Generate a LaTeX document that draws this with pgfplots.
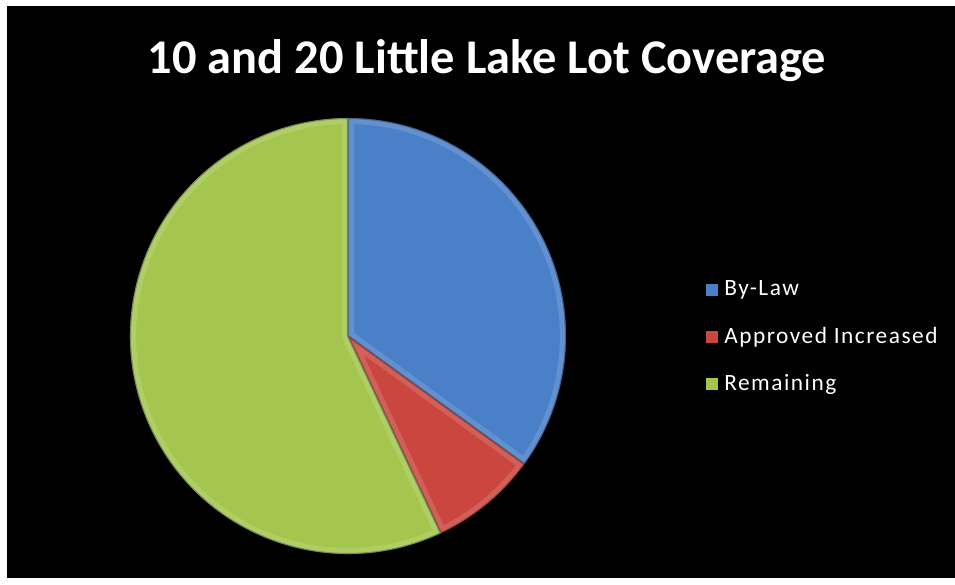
\documentclass[border=0pt]{standalone}
\usepackage{pgfplots}
\pgfplotsset{compat=1.18}
\usepackage{pgfplotstable}
\usepackage{fontspec}
\setmainfont{Carlito}
\definecolor{cBlue}{HTML}{4A80C8}
\definecolor{cRed}{HTML}{CA463F}
\definecolor{cGreen}{HTML}{A4C64F}
\pgfplotstableread{
idx value
0 35
1 8
2 57
}\piedata
\newcommand\slice[3]{%
  \fill[#3] (axis cs:348,242) -- ++(#1:163.5pt) arc[start angle=#1, end angle=#2, radius=163.5pt] -- cycle;
  \begin{scope}
    \clip (axis cs:348,242) -- ++(#1:163.5pt) arc[start angle=#1, end angle=#2, radius=163.5pt] -- cycle;
    \draw[white, opacity=0.14, line width=9pt] (axis cs:348,242) -- ++(#1:163.5pt) arc[start angle=#1, end angle=#2, radius=163.5pt] -- cycle;
    \draw[black, opacity=0.3, line width=1.6pt] (axis cs:348,242) -- ++(#1:163.5pt) arc[start angle=#1, end angle=#2, radius=163.5pt] -- cycle;
  \end{scope}}
\newcommand\legfont{\fontsize{17.5}{20}\selectfont\addfontfeature{LetterSpace=6.5}}
\begin{document}
\begin{tikzpicture}
\pgfplotstablegetelem{0}{value}\of\piedata \pgfmathsetmacro\va{\pgfplotsretval}
\pgfplotstablegetelem{1}{value}\of\piedata \pgfmathsetmacro\vb{\pgfplotsretval}
\pgfplotstablegetelem{2}{value}\of\piedata \pgfmathsetmacro\vc{\pgfplotsretval}
\pgfmathsetmacro\aA{90}
\pgfmathsetmacro\aB{\aA-3.6*\va}
\pgfmathsetmacro\aC{\aB-3.6*\vb}
\pgfmathsetmacro\aD{\aC-3.6*\vc}
\begin{axis}[x=0.75pt, y=0.75pt, xmin=0, xmax=955, ymin=0, ymax=578,
  scale only axis, hide axis, clip=false]
\fill[white] (axis cs:0,0) rectangle (axis cs:955,578);
\fill[black] (axis cs:7,0) rectangle (axis cs:955,572);
\slice{\aA}{\aB}{cBlue}
\slice{\aB}{\aC}{cRed}
\slice{\aC}{\aD}{cGreen}
\node[text=white, font=\fontsize{36.3}{44}\selectfont\bfseries] at (axis cs:487,517) {10 and 20 Little Lake Lot Coverage};
\fill[cBlue] (axis cs:706,282) rectangle (axis cs:718,294);
\fill[cRed] (axis cs:706,235) rectangle (axis cs:718,247);
\fill[cGreen] (axis cs:706,188) rectangle (axis cs:718,200);
\node[text=white, anchor=west, inner sep=0pt, font=\legfont] at (axis cs:724,288) {By-Law};
\node[text=white, anchor=west, inner sep=0pt, font=\legfont] at (axis cs:724,241) {Approved Increased};
\node[text=white, anchor=west, inner sep=0pt, font=\legfont] at (axis cs:724,194) {Remaining};
\end{axis}
\end{tikzpicture}
\end{document}
